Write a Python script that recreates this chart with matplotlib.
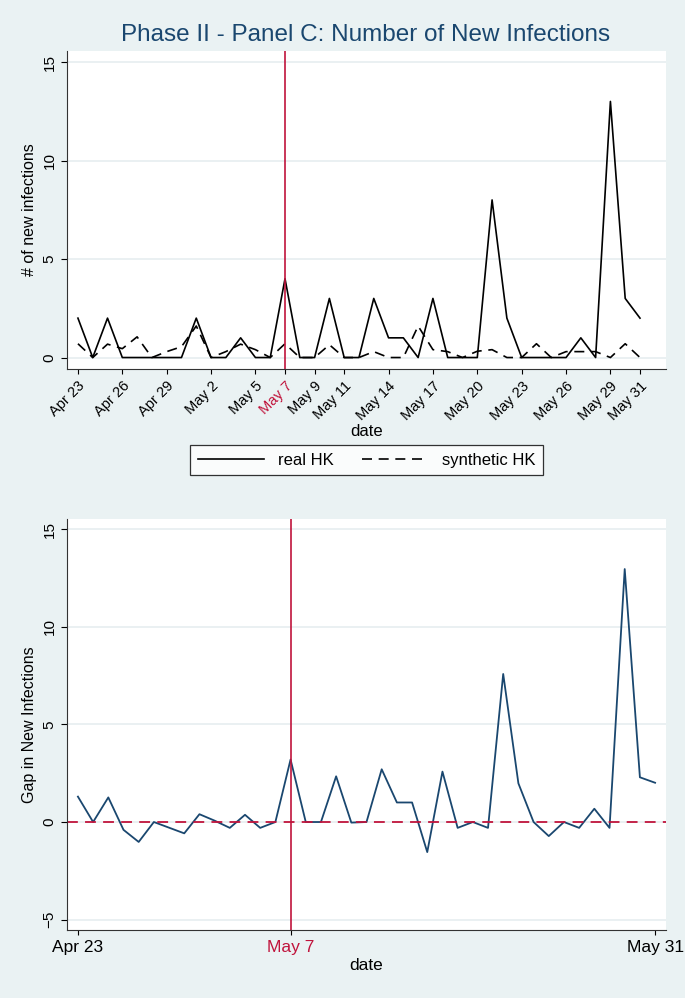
import numpy as np
import pandas as pd
import matplotlib.pyplot as plt
import matplotlib.dates as mdates

plt.rcParams['font.family'] = ['Liberation Sans', 'DejaVu Sans']

dates = pd.date_range('2020-04-23', '2020-05-31', freq='D')

# daily new infections, Apr 23 - May 31
real_hk = [2, 0, 2, 0, 0, 0, 0, 0, 2, 0, 0, 1, 0, 0, 4, 0, 0, 3, 0, 0,
           3, 1, 1, 0, 3, 0, 0, 0, 8, 2, 0, 0, 0, 0, 1, 0, 13, 3, 2]
synthetic_hk = [0.7, 0, 0.68, 0.45, 1.05, 0, 0.3, 0.55, 1.6, 0, 0.3, 0.68, 0.4, 0,
                0.7, 0, 0, 0.65, 0, 0, 0.3, 0, 0, 1.6, 0.4, 0.3, 0, 0.32, 0.4, 0,
                0, 0.7, 0, 0.3, 0.3, 0.3, 0, 0.7, 0]
gap = [1.3, 0, 1.26, -0.4, -1.02, 0, -0.29, -0.58, 0.4, 0.07, -0.3, 0.37, -0.3, 0,
       3.2, 0, 0, 2.34, -0.03, 0, 2.7, 1.0, 1.0, -1.54, 2.58, -0.3, 0, -0.3, 7.58, 1.98,
       0, -0.72, 0, -0.3, 0.68, -0.3, 12.95, 2.29, 2.01]

top_ticks = ['2020-04-23', '2020-04-26', '2020-04-29', '2020-05-02', '2020-05-05',
             '2020-05-07', '2020-05-09', '2020-05-11', '2020-05-14', '2020-05-17',
             '2020-05-20', '2020-05-23', '2020-05-26', '2020-05-29', '2020-05-31']
bottom_ticks = ['2020-04-23', '2020-05-07', '2020-05-31']
event = pd.Timestamp('2020-05-07')

bg = '#eaf2f3'
grid_c = '#e6edf0'
red = '#c0143c'
navy = '#1a476f'

fig = plt.figure(figsize=(6.85, 9.98), dpi=100, facecolor=bg)
fig.text(0.534, 0.965, 'Phase II - Panel C: Number of New Infections',
         ha='center', va='center', fontsize=17.5, color=navy)


def label(d):
    return d.strftime('%b') + ' ' + str(d.day)


def style(ax):
    ax.set_facecolor('white')
    for s in ['top', 'right']:
        ax.spines[s].set_visible(False)
    for s in ['left', 'bottom']:
        ax.spines[s].set_color('#333333')
    ax.grid(axis='y', color=grid_c, linewidth=1.2)
    ax.set_axisbelow(True)
    ax.tick_params(axis='y', labelsize=11, rotation=90, length=4)


# top panel
ax1 = fig.add_axes([0.0978, 0.6303, 0.8745, 0.3186])
style(ax1)
ax1.plot(dates, real_hk, color='black', lw=1.2, label='real HK')
ax1.plot(dates, synthetic_hk, color='black', lw=1.2, ls=(0, (6, 4)), label='synthetic HK')
ax1.axvline(event, color=red, lw=1.2)
ax1.set_ylim(-0.58, 15.56)
ax1.set_yticks([0, 5, 10, 15])
ax1.set_xlim(dates[0] - pd.Timedelta(days=0.74), dates[-1] + pd.Timedelta(days=1.76))
tk = pd.to_datetime(top_ticks)
ax1.set_xticks(tk)
ax1.set_xticklabels([label(d) for d in tk], rotation=45, ha='right',
                    rotation_mode='anchor', fontsize=10.5)
for t, d in zip(ax1.get_xticklabels(), tk):
    if d == event:
        t.set_color(red)
ax1.set_ylabel('# of new infections', fontsize=11.5)
ax1.set_xlabel('date', fontsize=12, labelpad=1)
for t in ax1.get_yticklabels():
    t.set_va('center')
leg = ax1.legend(loc='upper center', bbox_to_anchor=(0.5, -0.213), ncol=2,
                 frameon=True, fancybox=False, edgecolor='black', fontsize=12,
                 handlelength=4.0, columnspacing=1.7, borderpad=0.45)
leg.get_frame().set_linewidth(0.9)

# bottom panel
ax2 = fig.add_axes([0.0978, 0.0681, 0.8745, 0.4118])
style(ax2)
ax2.plot(dates, gap, color=navy, lw=1.3)
ax2.axhline(0, color=red, lw=1.3, ls=(0, (6, 4)))
ax2.axvline(event, color=red, lw=1.2)
ax2.set_ylim(-5.53, 15.51)
ax2.set_yticks([-5, 0, 5, 10, 15])
ax2.set_xlim(dates[0] - pd.Timedelta(days=0.72), dates[-1] + pd.Timedelta(days=0.72))
bk = pd.to_datetime(bottom_ticks)
ax2.set_xticks(bk)
ax2.set_xticklabels([label(d) for d in bk], fontsize=12.5)
for t, d in zip(ax2.get_xticklabels(), bk):
    if d == event:
        t.set_color(red)
ax2.set_ylabel('Gap in New Infections', fontsize=11.5)
ax2.set_xlabel('date', fontsize=12.5, labelpad=2)
for t in ax2.get_yticklabels():
    t.set_va('center')

fig.savefig('out.png', dpi=100, facecolor=bg)
